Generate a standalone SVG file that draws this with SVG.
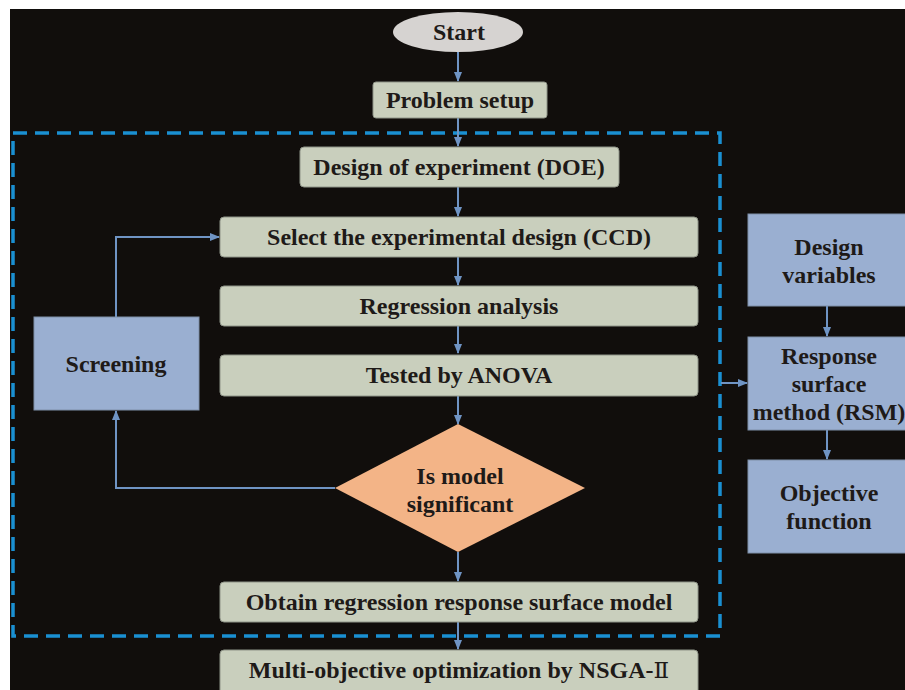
<svg xmlns="http://www.w3.org/2000/svg" width="905" height="690" viewBox="0 0 905 690">
<defs>
<style>
.bg{fill:#110e0c}
.g{fill:#c9cfbd;stroke:#8f9488;stroke-width:1}
.b{fill:#9aafd1;stroke:#7f8fa8;stroke-width:1}
.d{fill:#f3b487}
.t{font-family:"Liberation Serif","Times New Roman",serif;font-weight:bold;font-size:24px;fill:#1e1a18;text-anchor:middle}
.c{fill:none;stroke:#6f94c4;stroke-width:2}
.dash{fill:none;stroke:#1a90d2;stroke-width:3.5;stroke-dasharray:14 8}
</style>
<marker id="ah" markerWidth="10" markerHeight="10" refX="9" refY="5" orient="auto" markerUnits="userSpaceOnUse">
<path d="M0,1 L10,5 L0,9 Z" fill="#6f94c4"/>
</marker>
</defs>
<rect x="0" y="0" width="905" height="690" fill="#ffffff"/>
<rect class="bg" x="10" y="9" width="895" height="681"/>
<rect class="dash" x="13" y="133" width="707" height="503"/>
<g id="connectors">
<line class="c" x1="458" y1="52" x2="458" y2="81" marker-end="url(#ah)"/>
<line class="c" x1="458" y1="118" x2="458" y2="146" marker-end="url(#ah)"/>
<line class="c" x1="458" y1="187" x2="458" y2="216" marker-end="url(#ah)"/>
<line class="c" x1="458" y1="257" x2="458" y2="285" marker-end="url(#ah)"/>
<line class="c" x1="458" y1="326" x2="458" y2="353" marker-end="url(#ah)"/>
<line class="c" x1="458" y1="396" x2="458" y2="424" marker-end="url(#ah)"/>
<line class="c" x1="458" y1="552" x2="458" y2="581" marker-end="url(#ah)"/>
<line class="c" x1="458" y1="622" x2="458" y2="649" marker-end="url(#ah)"/>
<polyline class="c" points="335,488 116,488 116,411" marker-end="url(#ah)"/>
<polyline class="c" points="116,317 116,237 219,237" marker-end="url(#ah)"/>
<line class="c" x1="721" y1="383" x2="747" y2="383" marker-end="url(#ah)"/>
<line class="c" x1="827" y1="306" x2="827" y2="336" marker-end="url(#ah)"/>
<line class="c" x1="827" y1="430" x2="827" y2="459" marker-end="url(#ah)"/>
</g>
<g id="start">
<ellipse cx="458" cy="32" rx="65" ry="20" fill="#d6d3d1"/>
<text class="t" x="459" y="40">Start</text>
</g>
<g id="problem">
<rect class="g" x="373" y="82" width="174" height="36" rx="3"/>
<text class="t" x="460" y="108">Problem setup</text>
</g>
<g id="doe">
<rect class="g" x="300" y="147" width="319" height="40" rx="4"/>
<text class="t" x="459" y="175">Design of experiment (DOE)</text>
</g>
<g id="select">
<rect class="g" x="220" y="217" width="478" height="40" rx="4"/>
<text class="t" x="459" y="245">Select the experimental design (CCD)</text>
</g>
<g id="regression">
<rect class="g" x="220" y="286" width="478" height="40" rx="4"/>
<text class="t" x="459" y="314">Regression analysis</text>
</g>
<g id="anova">
<rect class="g" x="220" y="355" width="478" height="41" rx="4"/>
<text class="t" x="459" y="383">Tested by ANOVA</text>
</g>
<g id="decision">
<polygon class="d" points="458,424 585,488 458,552 335,488"/>
<text class="t" x="460" y="484">Is model</text>
<text class="t" x="460" y="512">significant</text>
</g>
<g id="obtain">
<rect class="g" x="220" y="582" width="478" height="40" rx="4"/>
<text class="t" x="459" y="610">Obtain regression response surface model</text>
</g>
<g id="nsga">
<rect class="g" x="220" y="650" width="478" height="44" rx="4"/>
<text class="t" x="459" y="678">Multi-objective optimization by NSGA-<tspan font-family="DejaVu Serif,serif" font-weight="normal" font-size="23">Ⅱ</tspan></text>
</g>
<g id="screening">
<rect class="b" x="34" y="317" width="165" height="93"/>
<text class="t" x="116" y="372">Screening</text>
</g>
<g id="designvars">
<rect class="b" x="748" y="214" width="160" height="92"/>
<text class="t" x="829" y="255">Design</text>
<text class="t" x="829" y="283">variables</text>
</g>
<g id="rsm">
<rect class="b" x="748" y="337" width="160" height="93"/>
<text class="t" x="829" y="364">Response</text>
<text class="t" x="829" y="392">surface</text>
<text class="t" x="829" y="420">method (RSM)</text>
</g>
<g id="objective">
<rect class="b" x="748" y="460" width="160" height="93"/>
<text class="t" x="829" y="501">Objective</text>
<text class="t" x="829" y="529">function</text>
</g>
</svg>
